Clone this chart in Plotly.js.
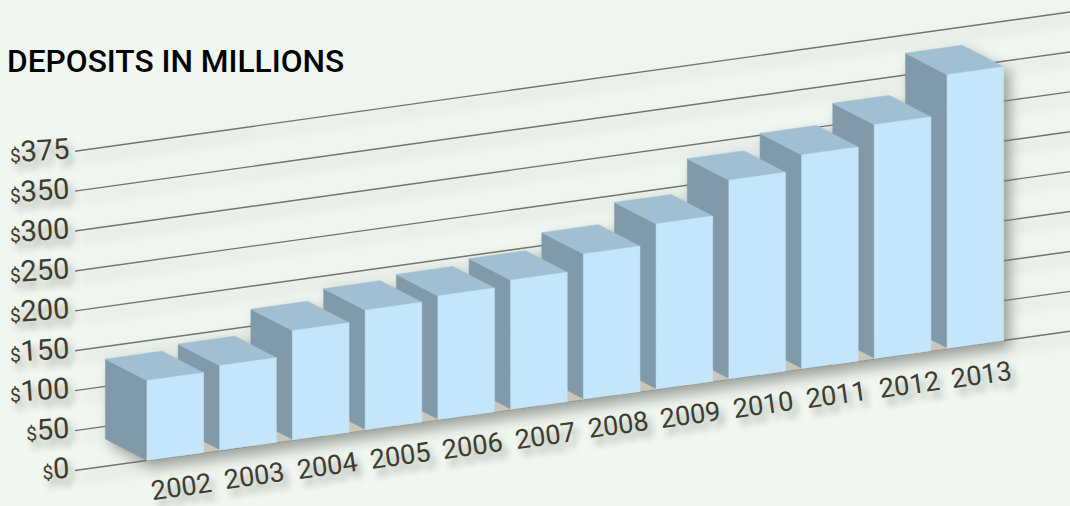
<!DOCTYPE html>
<html>
<head>
<meta charset="utf-8">
<script src="https://cdn.plot.ly/plotly-3.0.1.min.js"></script>
<style>
html,body{margin:0;padding:0;background:#f0f7f1;}
#chart{width:1070px;height:506px;}
#chart .scatterlayer{filter:drop-shadow(6px 7px 7px rgba(70,70,60,.5));}
</style>
</head>
<body>
<div id="chart"></div>
<script>
const years = ['2002','2003','2004','2005','2006','2007','2008','2009','2010','2011','2012','2013'];
const deposits = [100,106,137,150,155,162,182,207,249,268,293,343];
const gridValues = [0,50,100,150,200,250,300,350,400];
const gridLabels = ['0','50','100','150','200','250','300','350','375'];

const RISE = 12.75, X0 = -0.99, XMAX = 12.69;   // oblique view: axis rise per slot
const BAR = 0.777, DX = 0.571, DY = 26.9;       // bar width and depth in axis units
const colors = {front:'#c4e6fb', top:'#a0bfd2', side:'#819aaa', floor:'#c9c7bc', grid:'#76726c', text:'#3f3b2e', bg:'#f0f7f1'};

const rise = x => (x - X0) * RISE;
const front = (x, v) => [x, v + rise(x)];
const back = (x, v) => [x - DX, v + rise(x) + DY];

function face(points, color) {
  return {type:'scatter', mode:'lines', x:points.map(p=>p[0]), y:points.map(p=>p[1]),
    fill:'toself', fillcolor:color, line:{color:color, width:0.6}, hoverinfo:'skip', showlegend:false};
}

const traces = gridValues.map(v => ({
  type:'scatter', mode:'lines', x:[X0, XMAX], y:[v + rise(X0), v + rise(XMAX)],
  line:{color:colors.grid, width:1.4}, hoverinfo:'skip', showlegend:false
}));

for (let i = years.length - 1; i >= 0; i--) {
  const l = i, r = i + BAR, v = deposits[i];
  const side = [front(l,0), back(l,0), back(l,v), front(l,v)];
  traces.push(face([...side, side[0]], colors.side));
  if (i > 0) {
    const b = back(l,0);
    traces.push(face([front(l,0), b, [b[0], rise(b[0])], front(l,0)], colors.floor));
  }
  traces.push(face([front(l,v), back(l,v), back(r,v), front(r,v), front(l,v)], colors.top));
  traces.push(face([front(l,0), front(l,v), front(r,v), front(r,0), front(l,0)], colors.front));
}

const TS = '4px 7px 7px rgba(60,60,50,.42)';
const annotations = years.map((y,i) => ({
  x: i + BAR/2 + 0.09, y: rise(i + BAR/2 + 0.09), xref:'x', yref:'y', text:y, showarrow:false,
  yshift:-31, textangle:-8, xanchor:'center', yanchor:'middle',
  font:{family:'Roboto', size:27, color:colors.text, shadow:TS}
}));

const layout = {
  width:1070, height:506, margin:{l:75,r:0,t:0,b:0,pad:0},
  paper_bgcolor:colors.bg, plot_bgcolor:colors.bg, showlegend:false,
  title:{text:'DEPOSITS IN MILLIONS', x:7/1070, xref:'container', xanchor:'left', y:1-61/506, yref:'container', yanchor:'middle',
    font:{family:'Roboto', size:31.7, weight:500, color:'#000'}},
  xaxis:{range:[X0,XMAX], visible:false, fixedrange:true},
  yaxis:{range:[-44.5,589.5], fixedrange:true, showgrid:false, zeroline:false, showline:false, ticks:'',
    tickmode:'array', tickvals:gridValues,
    ticktext:gridLabels.map(t => '<span style="font-size:19px">$</span>'+t),
    tickangle:-4, ticklabelstandoff:5, ticklabelshift:-3,
    tickfont:{family:'Roboto', size:29, color:colors.text, shadow:TS}},
  annotations
};
Plotly.newPlot('chart', traces, layout, {displayModeBar:false, staticPlot:true});
</script>
</body>
</html>
